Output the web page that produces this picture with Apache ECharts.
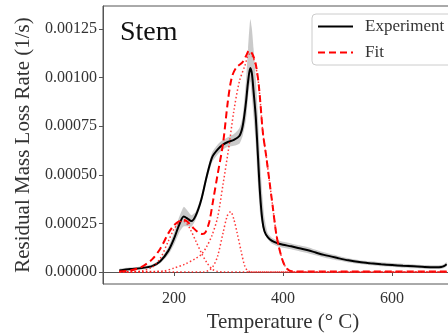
<!DOCTYPE html>
<html>
<head>
<meta charset="utf-8">
<script src="https://cdn.jsdelivr.net/npm/echarts@6/dist/echarts.min.js"></script>
<style>
html,body{margin:0;padding:0;overflow:hidden;background:#fff;}
#c{width:470px;height:334px;}
</style>
</head>
<body>
<div id="c"></div>
<script>
// ---- data ----
var expT = [100,120,140,160,175,190,200,210,218,225,232,240,250,260,270,280,290,300,310,320,326,332,336,340,343,346,350,354,358,362,366,372,380,390,400,415,430,446,460,475,500,520,540,560,580,600,620,640,660,680,690,695,700];
var expV = [0.000008,0.000015,0.00002,0.00003,0.000055,0.00011,0.00017,0.000245,0.000285,0.000275,0.000262,0.00029,0.00037,0.00049,0.00059,0.00063,0.000655,0.00067,0.00068,0.0007,0.00075,0.00087,0.00098,0.00105,0.00102,0.00093,0.0008,0.0006,0.0004,0.00027,0.00021,0.00018,0.00016,0.000148,0.00014,0.000132,0.000122,0.000112,0.0001,0.000088,0.000072,0.00006,0.000051,0.000045,0.00004,0.000036,0.000032,0.000029,0.000026,0.000025,0.000026,0.00003,0.00004];
var bandHigh = [0.000016,0.000023,0.000028,0.000038,0.000065,0.00013,0.0002,0.000285,0.000335,0.000315,0.000292,0.00031,0.00039,0.00051,0.000615,0.000655,0.00068,0.000695,0.00071,0.00074,0.0008,0.00098,0.00115,0.0013,0.00125,0.00115,0.001,0.0008,0.00058,0.0004,0.00028,0.0002,0.000175,0.000163,0.000155,0.000147,0.000137,0.000127,0.000114,0.000101,0.000084,0.000071,0.000061,0.000055,0.00005,0.000046,0.000042,0.000039,0.000036,0.000035,0.000036,0.00004,0.00005];
var bandLow = [0.0,0.000007,0.000012,0.000022,0.000045,0.00009,0.00014,0.000205,0.000235,0.000235,0.000232,0.00027,0.00035,0.00047,0.000565,0.000605,0.00063,0.000645,0.00065,0.00066,0.0007,0.00078,0.0009,0.00098,0.0009,0.0008,0.00066,0.00046,0.0003,0.00024,0.0002,0.00017,0.000145,0.000133,0.000125,0.000117,0.000107,0.000097,0.000086,0.000075,0.00006,0.000049,0.000041,0.000035,0.00003,0.000026,0.000022,0.000019,0.000016,0.000015,0.000016,0.00002,0.00003];

var fitT = [100,120,140,160,175,190,200,210,218,225,235,245,252,258,265,272,280,290,299,306,314,326,332,338,344,350,356,363,369,375,381,388,395,402,410,420,500,600,700];
var fitV = [0.000002,0.000008,0.000025,0.000065,0.00012,0.0002,0.00024,0.000262,0.000267,0.000258,0.000228,0.000203,0.000196,0.000205,0.00026,0.00037,0.0005,0.00066,0.00088,0.001,0.00105,0.00108,0.00111,0.00114,0.00112,0.00107,0.00095,0.00072,0.0006,0.00047,0.00034,0.00019,0.0001,0.00004,0.00001,0.000002,0.000002,0.000002,0.000002];

var comp1T = [100,140,160,175,190,200,210,216,222,230,240,250,260,270,280,290,700];
var comp1V = [0,0.000005,0.000025,0.00007,0.00016,0.00022,0.000255,0.000262,0.000255,0.00022,0.00016,0.0001,0.00005,0.000015,0.000003,0,0];
var comp2T = [100,255,265,272,280,290,298,304,310,316,323,330,336,345,700];
var comp2V = [0,0,0.00001,0.00003,0.00008,0.0002,0.00029,0.00031,0.00027,0.0002,0.00011,0.00003,0.000005,0,0];
var comp3T = [100,180,200,220,240,250,260,270,280,290,300,310,320,330,338,344,350,356,363,369,375,381,388,395,402,410,420,700];
var comp3V = [0,0.000005,0.00002,0.00004,0.00007,0.00009,0.00013,0.00019,0.00028,0.00045,0.00063,0.00083,0.00098,0.00106,0.00112,0.00111,0.00106,0.00095,0.00072,0.0006,0.00047,0.00034,0.00019,0.0001,0.00004,0.00001,0,0];

var xTicks = [200,400,600];
var yTicks = [0,0.00025,0.0005,0.00075,0.001,0.00125];

// ---- build ----
function pairs(t, v){ return t.map(function(x,i){ return [x, v[i]]; }); }
var serif = '"Liberation Serif", "Times New Roman", serif';
var axisColor = '#555';

var chart = echarts.init(document.getElementById('c'), null, {renderer:'canvas'});
var compStyle = {color:'rgba(255,20,20,0.85)', width:1.5, type:[1.5,2.3]};
chart.setOption({
  animation:false,
  backgroundColor:'#fff',
  grid:{left:103, top:6, bottom:50, right:7, show:true, borderColor:axisColor, borderWidth:1,
    backgroundColor:'transparent', containLabel:false, outerBoundsMode:'none'},
  xAxis:{
    type:'value', min:70, max:730,
    name:'Temperature (° C)', nameLocation:'middle', nameGap:28,
    nameTextStyle:{fontFamily:serif, fontSize:21, color:'#333'},
    axisLine:{show:true, lineStyle:{color:axisColor, width:1}},
    axisTick:{show:true, inside:false, length:4, lineStyle:{color:axisColor}, customValues:xTicks},
    axisLabel:{fontFamily:serif, fontSize:16, color:'#333', margin:7, customValues:xTicks},
    splitLine:{show:false}
  },
  yAxis:{
    type:'value', min:-0.0000617, max:0.0013683,
    name:'Residual Mass Loss Rate (1/s)', nameLocation:'middle', nameGap:62,
    nameTextStyle:{fontFamily:serif, fontSize:21, color:'#333'},
    axisLine:{show:true, lineStyle:{color:axisColor, width:1}},
    axisTick:{show:true, inside:false, length:4, lineStyle:{color:axisColor}, customValues:yTicks},
    axisLabel:{fontFamily:serif, fontSize:16, color:'#333', margin:6, customValues:yTicks,
      formatter:function(v){ return v.toFixed(5); }},
    splitLine:{show:false}
  },
  legend:{
    data:['Experiment','Fit'], orient:'vertical', left:312, top:14,
    padding:[4,30,4,5], itemWidth:35, itemHeight:14, itemGap:9,
    itemStyle:{opacity:0},
    borderColor:'#ccc', borderWidth:1, borderRadius:4, backgroundColor:'#fff',
    textStyle:{fontFamily:serif, fontSize:17, color:'#333', padding:[0,0,0,7]}
  },
  graphic:[{type:'text', left:120, top:19, style:{text:'Stem', font:'28px "Liberation Serif", serif', fill:'#111'}}],
  series:[
    {name:'band', type:'custom', data:[0], silent:true, clip:true,
      renderItem:function(params, api){
        var pts = [];
        for (var i = 0; i < expT.length; i++) pts.push(api.coord([expT[i], bandHigh[i]]));
        for (var j = expT.length - 1; j >= 0; j--) pts.push(api.coord([expT[j], bandLow[j]]));
        return {type:'polygon', shape:{points:pts, smooth:0.2}, style:{fill:'rgba(150,150,150,0.5)', stroke:null}};
      }},
    {name:'Experiment', type:'line', data:pairs(expT, expV), symbol:'none', smooth:0.3,
      lineStyle:{color:'#000', width:2}, itemStyle:{color:'#000'}},
    {name:'Fit', type:'line', data:pairs(fitT, fitV), symbol:'none', smooth:0.3,
      lineStyle:{color:'#ff0000', width:2, type:[7,4]}, itemStyle:{color:'#ff0000'}},
    {name:'c1', type:'line', data:pairs(comp1T, comp1V), symbol:'none', smooth:0.3, lineStyle:compStyle},
    {name:'c2', type:'line', data:pairs(comp2T, comp2V), symbol:'none', smooth:0.3, lineStyle:compStyle},
    {name:'c3', type:'line', data:pairs(comp3T, comp3V), symbol:'none', smooth:0.3, lineStyle:compStyle}
  ]
});
</script>
</body>
</html>
